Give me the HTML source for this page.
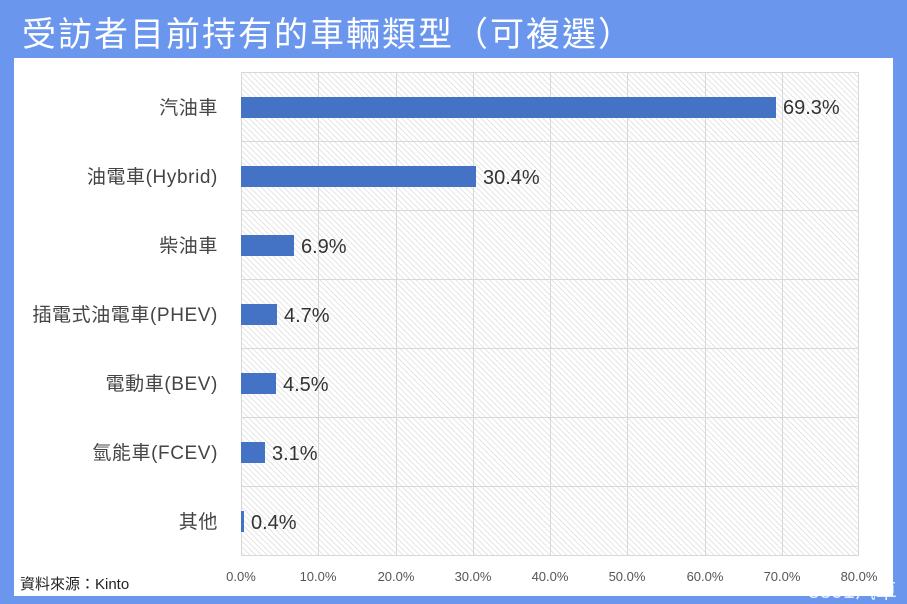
<!DOCTYPE html>
<html><head><meta charset="utf-8"><style>
body{margin:0;width:907px;height:604px;background:#6a96ee;overflow:hidden;font-family:"Liberation Sans","Noto Sans CJK TC",sans-serif}
</style></head><body>
<svg width="907" height="604" xmlns="http://www.w3.org/2000/svg" style="position:absolute;left:0;top:0">
<defs><pattern id="h" width="4" height="4" patternUnits="userSpaceOnUse" patternTransform="rotate(-45)">
<rect width="4" height="4" fill="#fff"/><line x1="0" y1="0" x2="0" y2="4" stroke="#d4d4d4" stroke-width="1.2"/></pattern></defs>
<text x="22" y="46" font-size="34" fill="#fff" font-family="Noto Sans CJK TC,sans-serif" letter-spacing="2">受訪者目前持有的車輛類型（可複選）</text>
<rect x="14" y="58" width="879" height="538" fill="#fff"/>
<rect x="241" y="72" width="618" height="484" fill="url(#h)"/>
<g stroke="#d8d8d8" stroke-width="1">
<line x1="241" y1="72.5" x2="859" y2="72.5"/><line x1="241" y1="141.5" x2="859" y2="141.5"/><line x1="241" y1="210.5" x2="859" y2="210.5"/><line x1="241" y1="279.5" x2="859" y2="279.5"/><line x1="241" y1="348.5" x2="859" y2="348.5"/><line x1="241" y1="417.5" x2="859" y2="417.5"/><line x1="241" y1="486.5" x2="859" y2="486.5"/><line x1="241" y1="555.5" x2="859" y2="555.5"/>
<line x1="241.5" y1="72" x2="241.5" y2="556"/><line x1="318.5" y1="72" x2="318.5" y2="556"/><line x1="396.5" y1="72" x2="396.5" y2="556"/><line x1="473.5" y1="72" x2="473.5" y2="556"/><line x1="550.5" y1="72" x2="550.5" y2="556"/><line x1="627.5" y1="72" x2="627.5" y2="556"/><line x1="705.5" y1="72" x2="705.5" y2="556"/><line x1="782.5" y1="72" x2="782.5" y2="556"/><line x1="858.5" y1="72" x2="858.5" y2="556"/>
</g>
<g fill="#4472c4">
<rect x="241" y="97" width="535" height="21"/>
<rect x="241" y="166" width="235" height="21"/>
<rect x="241" y="235" width="53" height="21"/>
<rect x="241" y="304" width="36" height="21"/>
<rect x="241" y="373" width="35" height="21"/>
<rect x="241" y="442" width="24" height="21"/>
<rect x="241" y="511" width="3" height="21"/>
</g>
<g font-size="20" fill="#333">
<text x="783" y="114">69.3%</text><text x="483" y="184">30.4%</text><text x="301" y="253">6.9%</text><text x="284" y="322">4.7%</text><text x="283" y="391">4.5%</text><text x="272" y="460">3.1%</text><text x="251" y="529">0.4%</text>
</g>
<g font-size="19" fill="#444" text-anchor="end" letter-spacing="0.6">
<text x="218" y="114">汽油車</text><text x="218" y="183">油電車(Hybrid)</text><text x="218" y="252">柴油車</text><text x="218" y="321">插電式油電車(PHEV)</text><text x="218" y="390">電動車(BEV)</text><text x="218" y="459">氫能車(FCEV)</text><text x="218" y="528">其他</text>
</g>
<g font-size="13" fill="#555" text-anchor="middle">
<text x="241" y="581">0.0%</text><text x="318" y="581">10.0%</text><text x="396" y="581">20.0%</text><text x="473" y="581">30.0%</text><text x="550" y="581">40.0%</text><text x="627" y="581">50.0%</text><text x="705" y="581">60.0%</text><text x="782" y="581">70.0%</text><text x="859" y="581">80.0%</text>
</g>
<text x="20" y="589" font-size="15" fill="#222">資料來源：Kinto</text>
<text x="808" y="598" font-size="21" fill="#fff" opacity="0.85">8891汽車</text>
</svg>
</body></html>
